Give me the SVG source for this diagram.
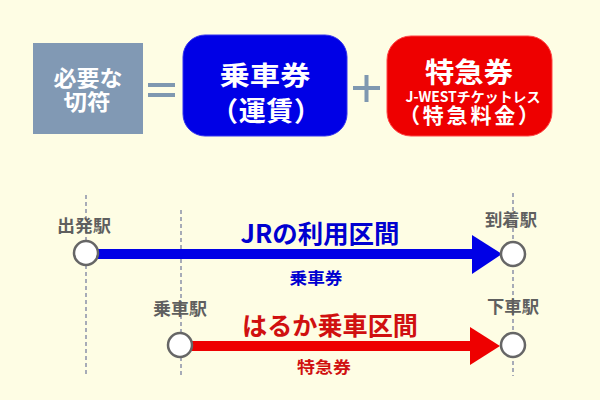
<svg xmlns="http://www.w3.org/2000/svg" width="600" height="400" viewBox="0 0 600 400">
<style>
text{font-family:"Noto Sans CJK JP","Noto Sans",sans-serif;font-weight:bold;text-anchor:middle}
.w{fill:#fff}
.st{fill:#5f5f5f;font-size:17px}
.dash{stroke:#8a90a8;stroke-width:1.5;stroke-dasharray:4 3;fill:none}
.stn{fill:#fff;stroke:#666;stroke-width:2.5}
.sym{fill:#7f98b0}
</style>
<rect width="600" height="400" fill="#fefde4"/>
<g id="required">
<rect x="33" y="43" width="110" height="91" fill="#8199b4"/>
<text class="w" x="88" y="86" font-size="22" textLength="69" lengthAdjust="spacingAndGlyphs">必要な</text>
<text class="w" x="87" y="110" font-size="22" textLength="47" lengthAdjust="spacingAndGlyphs">切符</text>
</g>
<g id="equals">
<rect class="sym" x="148" y="83" width="27" height="4"/>
<rect class="sym" x="148" y="93" width="27" height="4"/>
</g>
<g id="fare">
<rect x="183" y="35" width="164" height="101" rx="22" fill="#0000e6" stroke="#3333ee" stroke-width="1"/>
<text class="w" x="265" y="85" font-size="26" textLength="91" lengthAdjust="spacingAndGlyphs">乗車券</text>
<text class="w" x="266" y="121" font-size="27" textLength="110" lengthAdjust="spacing">（運賃）</text>
</g>
<g id="plus">
<rect class="sym" x="353" y="86" width="27" height="4"/>
<rect class="sym" x="364.5" y="75" width="4" height="27"/>
</g>
<g id="express">
<rect x="387" y="36" width="165" height="100" rx="24" fill="#ee0000" stroke="#f44" stroke-width="1"/>
<text class="w" x="469" y="83" font-size="28" textLength="88" lengthAdjust="spacingAndGlyphs">特急券</text>
<text class="w" x="473" y="102" font-size="14" textLength="135" lengthAdjust="spacingAndGlyphs">J-WESTチケットレス</text>
<text class="w" x="469" y="123" font-size="21" textLength="140" lengthAdjust="spacing">（特急料金）</text>
</g>
<g id="connectors">
<line class="dash" x1="86" y1="195" x2="86" y2="376"/>
<line class="dash" x1="181" y1="210" x2="181" y2="376"/>
<line class="dash" x1="513" y1="193" x2="513" y2="376"/>
<rect x="86" y="249" width="390" height="10" fill="#0000e6"/>
<polygon points="472,235 502,254 472,274" fill="#0000e6"/>
<rect x="181" y="341" width="293" height="10" fill="#ee0000"/>
<polygon points="470,327 500,346 470,365" fill="#ee0000"/>
</g>
<g id="st-depart">
<circle class="stn" cx="86" cy="253" r="12"/>
<text class="st" x="84" y="232" textLength="54" lengthAdjust="spacingAndGlyphs">出発駅</text>
</g>
<g id="st-arrive">
<circle class="stn" cx="513" cy="254" r="12"/>
<text class="st" x="511" y="226" textLength="52" lengthAdjust="spacingAndGlyphs">到着駅</text>
</g>
<g id="st-board">
<circle class="stn" cx="180" cy="345" r="12"/>
<text class="st" x="180" y="315" textLength="54" lengthAdjust="spacingAndGlyphs">乗車駅</text>
</g>
<g id="st-alight">
<circle class="stn" cx="513" cy="345" r="12"/>
<text class="st" x="513" y="313" textLength="52" lengthAdjust="spacingAndGlyphs">下車駅</text>
</g>
<g id="labels">
<text x="320" y="243" font-size="25" fill="#0000d0" textLength="159" lengthAdjust="spacingAndGlyphs">JRの利用区間</text>
<text x="316" y="284" font-size="16" fill="#0000d0" textLength="53" lengthAdjust="spacingAndGlyphs">乗車券</text>
<text x="330" y="335" font-size="25" fill="#d01010" textLength="176" lengthAdjust="spacingAndGlyphs">はるか乗車区間</text>
<text x="324" y="373" font-size="16" fill="#d01010" textLength="54" lengthAdjust="spacingAndGlyphs">特急券</text>
</g>
</svg>
